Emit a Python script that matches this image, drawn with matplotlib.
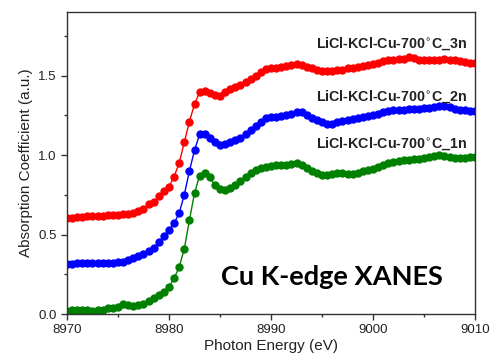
import numpy as np
import matplotlib
matplotlib.use("Agg")
import matplotlib.pyplot as plt
from matplotlib.ticker import MultipleLocator

plt.rcParams['font.family'] = ['Liberation Sans', 'DejaVu Sans']

# photon energy grid (eV), 0.5 eV steps
energy = np.arange(8970.0, 9010.25, 0.5)

# normalised absorption, one list per sample (already offset)
mu_1n = [0.022, 0.025, 0.028, 0.025, 0.025, 0.022, 0.025, 0.028, 0.035, 0.040,
         0.045, 0.060, 0.055, 0.052, 0.055, 0.065, 0.082, 0.100, 0.120, 0.140,
         0.170, 0.225, 0.295, 0.410, 0.590, 0.760, 0.870, 0.885, 0.860, 0.810,
         0.785, 0.780, 0.790, 0.810, 0.835, 0.860, 0.885, 0.905, 0.918, 0.925,
         0.930, 0.935, 0.938, 0.940, 0.945, 0.950, 0.940, 0.920, 0.900, 0.885,
         0.877, 0.875, 0.878, 0.885, 0.885, 0.878, 0.880, 0.890, 0.897, 0.905,
         0.915, 0.928, 0.940, 0.948, 0.955, 0.962, 0.968, 0.970, 0.975, 0.978,
         0.980, 0.988, 0.995, 1.000, 0.995, 0.985, 0.980, 0.980, 0.982, 0.985,
         0.990]

mu_2n = [0.312, 0.315, 0.318, 0.318, 0.320, 0.320, 0.318, 0.318, 0.320, 0.322,
         0.325, 0.330, 0.338, 0.350, 0.362, 0.378, 0.395, 0.418, 0.450, 0.490,
         0.530, 0.570, 0.635, 0.750, 0.900, 1.030, 1.130, 1.130, 1.110, 1.085,
         1.065, 1.072, 1.085, 1.097, 1.110, 1.135, 1.160, 1.185, 1.210, 1.230,
         1.240, 1.240, 1.243, 1.250, 1.260, 1.272, 1.270, 1.255, 1.235, 1.220,
         1.205, 1.198, 1.198, 1.205, 1.212, 1.220, 1.228, 1.235, 1.240, 1.245,
         1.250, 1.260, 1.270, 1.280, 1.285, 1.285, 1.285, 1.288, 1.290, 1.292,
         1.295, 1.298, 1.302, 1.308, 1.310, 1.300, 1.290, 1.285, 1.282, 1.280,
         1.278]

mu_3n = [0.605, 0.607, 0.610, 0.612, 0.615, 0.616, 0.617, 0.618, 0.620, 0.622,
         0.625, 0.628, 0.632, 0.638, 0.645, 0.660, 0.690, 0.705, 0.740, 0.775,
         0.800, 0.865, 0.950, 1.080, 1.210, 1.320, 1.395, 1.405, 1.390, 1.375,
         1.370, 1.395, 1.415, 1.430, 1.440, 1.460, 1.480, 1.500, 1.525, 1.540,
         1.545, 1.550, 1.555, 1.560, 1.565, 1.570, 1.565, 1.555, 1.545, 1.535,
         1.530, 1.528, 1.530, 1.532, 1.538, 1.545, 1.550, 1.555, 1.560, 1.568,
         1.575, 1.582, 1.590, 1.595, 1.600, 1.603, 1.605, 1.615, 1.610, 1.600,
         1.598, 1.597, 1.600, 1.600, 1.602, 1.600, 1.595, 1.590, 1.585, 1.580,
         1.578]

labels = ['LiCl-KCl-Cu-700$^{\\circ}$C_1n',
          'LiCl-KCl-Cu-700$^{\\circ}$C_2n',
          'LiCl-KCl-Cu-700$^{\\circ}$C_3n']
label_y = [1.07, 1.37, 1.70]
colors = ['#008000', '#0000ff', '#ff0000']

fig = plt.figure(figsize=(4.94, 3.59), dpi=100)
ax = fig.add_axes([0.1356, 0.1253, 0.826, 0.8413])

for mu, c in zip([mu_1n, mu_2n, mu_3n], colors):
    ax.plot(energy, mu, '-o', color=c, lw=1.0, ms=5.0, mec=c, mfc=c)

for lab, yy in zip(labels, label_y):
    ax.text(9009.2, yy, lab, ha='right', va='center', fontsize=10.3,
            fontweight='bold', color='#222222')

ax.text(8985.1, 0.23, 'Cu K-edge XANES', ha='left', va='center',
        fontsize=19.5, fontweight='bold', family=['Lato', 'DejaVu Sans'])

ax.set_xlim(8970, 9010)
ax.set_ylim(0, 1.9)
ax.xaxis.set_major_locator(MultipleLocator(10))
ax.xaxis.set_minor_locator(MultipleLocator(5))
ax.yaxis.set_major_locator(MultipleLocator(0.5))
ax.yaxis.set_minor_locator(MultipleLocator(0.25))
ax.yaxis.set_major_formatter(matplotlib.ticker.FormatStrFormatter('%.1f'))
ax.tick_params(which='major', direction='out', length=4, width=1,
               labelsize=9.5, colors='#333333')
ax.tick_params(which='minor', direction='out', length=2.5, width=1, colors='#333333')
ax.tick_params(labelcolor='#222222')
for s in ax.spines.values():
    s.set_color('#333333')
    s.set_linewidth(1.0)

ax.set_xlabel('Photon Energy (eV)', fontsize=11, color='#222222', labelpad=2)
ax.set_ylabel('Absorption Coefficient (a.u.)', fontsize=11, color='#222222', labelpad=4)

fig.savefig('out.png', dpi=100)
